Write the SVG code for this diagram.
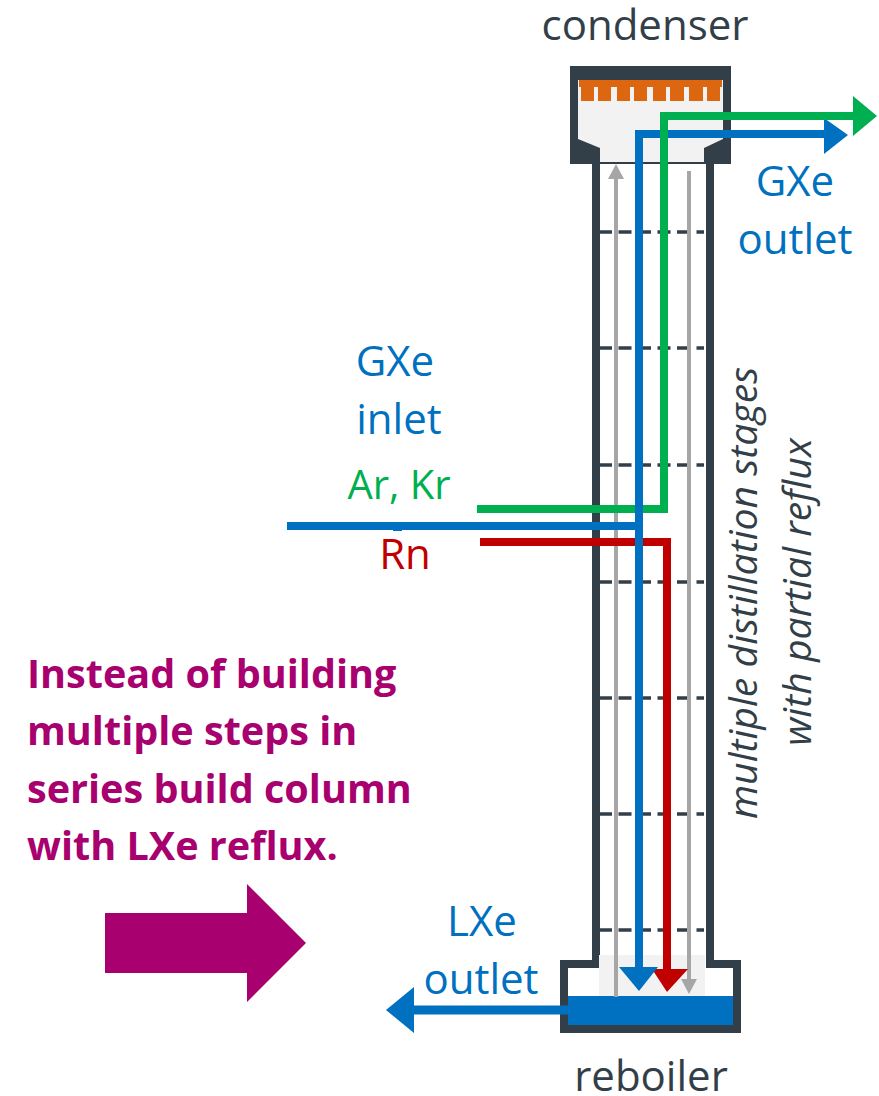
<svg xmlns="http://www.w3.org/2000/svg" width="879" height="1096" viewBox="0 0 879 1096">
<style>
text{font-family:"Open Sans",Lato,sans-serif}
.lbl{font-size:42px;text-anchor:middle}
.b{fill:#0070c0}.d{fill:#333f48}
.pm{font-size:39.6px;font-weight:700;fill:#a8006e}
.rot{font-size:39.2px;font-style:italic;text-anchor:middle;fill:#333f48}
.wall{fill:none;stroke:#333f48;stroke-width:8}
.stage{stroke:#333f48;stroke-width:3.5;stroke-dasharray:13 6.5;fill:none}
.flow{fill:none;stroke-width:8}
</style>
<rect width="879" height="1096" fill="#fff"/>
<g id="column">
<rect x="592" y="160" width="8" height="808" fill="#333f48"/>
<rect x="706" y="160" width="8" height="808" fill="#333f48"/>
<path class="stage" d="M599 232H704M599 348H704M599 465H704M599 582H704M599 698H704M599 814H704M599 930H704"/>
</g>
<g id="condenser">
<path d="M570 66H731V164H570Z" fill="#333f48"/>
<path d="M578 80H723V139L704 148V162H600V148L578 139Z" fill="#f2f2f2"/>
<rect x="579" y="80" width="143" height="7" fill="#dd6611"/>
<g fill="#dd6611"><rect x="581" y="86" width="13" height="15"/><rect x="598" y="86" width="13" height="15"/><rect x="617" y="86" width="13" height="15"/><rect x="634" y="86" width="13" height="15"/><rect x="653" y="86" width="13" height="15"/><rect x="670" y="86" width="14" height="15"/><rect x="689" y="86" width="14" height="15"/><rect x="707" y="86" width="13" height="15"/></g>
</g>
<g id="reboiler">
<rect x="599" y="955" width="106" height="41" fill="#f2f2f2"/>
<path d="M596 964H564V1029H737V964H710" class="wall"/>
<rect x="568" y="996" width="165" height="29" fill="#0070c0"/>
</g>
<g id="connectors">
<path d="M616 178V997" stroke="#a6a6a6" stroke-width="4" fill="none"/>
<path d="M616 164L624 179H608Z" fill="#a6a6a6"/>
<path d="M689 171V980" stroke="#a6a6a6" stroke-width="4" fill="none"/>
<path d="M681 979H697L689 994Z" fill="#a6a6a6"/>
<path class="flow" stroke="#0070c0" d="M639 140V134H825"/>
<path d="M824 118L848 135L824 154Z" fill="#0070c0"/>
<path class="flow" stroke="#00b050" d="M477 509H664V116H855"/>
<path d="M853 96L877 116L853 136Z" fill="#00b050"/>
<path class="flow" stroke="#c00000" d="M480 542H667V970"/>
<path d="M652 969H688L667 992Z" fill="#c00000"/>
<path class="flow" stroke="#0070c0" d="M287 526H642"/>
<rect x="393" y="528" width="9" height="3" fill="#0070c0"/>
<path class="flow" stroke="#0070c0" d="M639 138V967"/>
<path d="M619 967H658L639 991Z" fill="#0070c0"/>
<path d="M414 1010H568" stroke="#0070c0" stroke-width="9" fill="none"/>
<path d="M414 987V1033L386 1010Z" fill="#0070c0"/>
</g>
<g id="big-arrow"><path d="M105 913H247V884L306 943L247 1002V973H105Z" fill="#a8006e"/></g>
<g id="labels">
<text class="lbl d" x="645" y="40">condenser</text>
<text class="lbl b" x="795" y="196">GXe</text>
<text class="lbl b" x="795" y="254">outlet</text>
<text class="lbl b" x="395" y="376">GXe</text>
<text class="lbl b" x="399" y="434">inlet</text>
<text class="lbl" x="399" y="499" fill="#00b050" font-size="40" style="font-size:40px">Ar, Kr</text>
<text class="lbl" x="405" y="569" fill="#c00000">Rn</text>
<text class="lbl b" x="482" y="936">LXe</text>
<text class="lbl b" x="481" y="994">outlet</text>
<text class="lbl d" x="651" y="1091">reboiler</text>
<text class="rot" transform="translate(757 593) rotate(-90)">multiple distillation stages</text>
<text class="rot" transform="translate(811 592) rotate(-90)">with partial reflux</text>
<text class="pm" x="27" y="688">Instead of building</text>
<text class="pm" x="27" y="745">multiple steps in</text>
<text class="pm" x="27" y="803">series build column</text>
<text class="pm" x="27" y="860">with LXe reflux.</text>
</g>
</svg>
